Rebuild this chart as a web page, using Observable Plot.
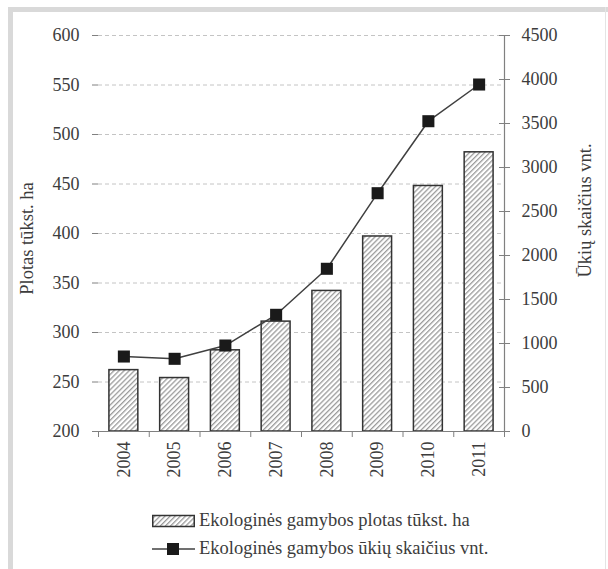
<!DOCTYPE html>
<html><head><meta charset="utf-8">
<script src="https://cdn.jsdelivr.net/npm/d3@7"></script>
<script src="https://cdn.jsdelivr.net/npm/@observablehq/plot@0.6"></script>
<style>
body{margin:0;background:#fff;font-family:"Liberation Serif","Times New Roman",serif;color:#3c3c3c}
#wrap{position:relative;width:608px;height:569px;overflow:hidden;background:#fff}
.fr{position:absolute;background:#d9d9d9}
#chart{position:absolute;left:0;top:0}
.lg{position:absolute;left:152px;display:flex;align-items:center;font-family:"Liberation Serif","Times New Roman",serif;font-size:18.5px;white-space:nowrap;color:#3c3c3c}
.lg svg{margin-right:4px}
</style></head><body>
<div id="wrap">
  <div class="fr" style="left:8px;top:7px;width:5px;height:562px"></div>
  <div class="fr" style="left:8px;top:7px;width:600px;height:5px"></div>
  <div class="fr" style="left:605px;top:7px;width:1px;height:562px;background:#e4e4e4"></div>
  <div id="chart"></div>
  <div class="lg" style="top:510px">
    <svg width="43" height="16"><defs><pattern id="hatchL" width="3.6" height="3.6" patternUnits="userSpaceOnUse" patternTransform="rotate(45)"><rect width="3.6" height="3.6" fill="#fff"/><rect width="1.3" height="3.6" fill="#9a9a9a"/></pattern></defs><rect x="0.75" y="2.5" width="41.5" height="11" fill="url(#hatchL)" stroke="#333" stroke-width="1.5"/></svg>
    <span>Ekologinės gamybos plotas tūkst. ha</span>
  </div>
  <div class="lg" style="top:538px">
    <svg width="43" height="16"><line x1="0" y1="8" x2="43" y2="8" stroke="#404040" stroke-width="1.5"/><rect x="15" y="2" width="12" height="12" fill="#1a1a1a"/></svg>
    <span>Ekologinės gamybos ūkių skaičius vnt.</span>
  </div>
</div>
<script>
const years = [2004, 2005, 2006, 2007, 2008, 2009, 2010, 2011];
const areaValues = [262, 254, 282, 311, 342, 397, 448, 482];
const farmValues = [852, 826, 977, 1326, 1849, 2708, 3526, 3943];
const leftTicks = [200, 250, 300, 350, 400, 450, 500, 550, 600];
const rightTicks = [0, 500, 1000, 1500, 2000, 2500, 3000, 3500, 4000, 4500];
const leftTitle = "Plotas tūkst. ha";
const rightTitle = "Ūkių skaičius vnt.";

const data = years.map((y, i) => ({year: y, area: areaValues[i], farms: farmValues[i]}));
const yMin = leftTicks[0], yMax = leftTicks[leftTicks.length - 1];
const rMax = rightTicks[rightTicks.length - 1];
const toLeft = v => yMin + v * (yMax - yMin) / rMax;
const fromLeft = v => (v - yMin) * rMax / (yMax - yMin);
const boundaries = years.map(y => y - 0.5).concat([years[years.length - 1] + 0.5]);
const half = 0.285;
const serif = "Liberation Serif, Times New Roman, serif";

const plot = Plot.plot({
  width: 608, height: 490,
  marginLeft: 98, marginRight: 104, marginTop: 35, marginBottom: 59,
  style: {fontFamily: serif, fontSize: "18px", color: "#3c3c3c", background: "transparent"},
  x: {type: "linear", domain: [boundaries[0], boundaries[boundaries.length - 1]]},
  y: {domain: [yMin, yMax]},
  marks: [
    Plot.gridY(leftTicks.slice(1), {stroke: "#c4c4c4", strokeOpacity: 1, strokeDasharray: "4,3"}),
    Plot.rectY(data, {x1: d => d.year - half, x2: d => d.year + half, y1: yMin, y2: "area", fill: "url(#hatch)", stroke: "#333", strokeWidth: 1.5}),
    Plot.line(data, {x: "year", y: d => toLeft(d.farms), stroke: "#404040", strokeWidth: 1.5}),
    Plot.dot(data, {x: "year", y: d => toLeft(d.farms), symbol: "square", r: 6.8, fill: "#1a1a1a", stroke: "none"}),
    Plot.ruleY([yMin], {stroke: "#808080", strokeWidth: 1.2}),
    Plot.ruleX([boundaries[boundaries.length - 1]], {stroke: "#808080", strokeWidth: 1.2}),
    Plot.axisY(leftTicks, {anchor: "left", tickSize: 6, tickPadding: 13, line: true, stroke: "#808080", label: null, tickFormat: d => String(d)}),
    Plot.axisY(rightTicks.map(toLeft), {anchor: "right", tickSize: 11, dx: -6, tickPadding: 12, stroke: "#808080", label: null, tickFormat: d => String(Math.round(fromLeft(d)))}),
    Plot.axisX(boundaries, {tickSize: 6, stroke: "#808080", tickFormat: () => "", label: null}),
    Plot.axisX(years, {tickSize: 0, tickPadding: 10, tickRotate: -90, tickFormat: d => String(d), label: null}),
    Plot.text([leftTitle], {frameAnchor: "left", textAnchor: "middle", dx: -71, dy: 5, rotate: -90, fill: "#3c3c3c", fontSize: 18.5, fontFamily: serif}),
    Plot.text([rightTitle], {frameAnchor: "right", textAnchor: "middle", dx: 81, dy: -23, rotate: -90, fill: "#3c3c3c", fontSize: 18.5, fontFamily: serif})
  ]
});
const ns = "http://www.w3.org/2000/svg";
const defs = document.createElementNS(ns, "defs");
defs.innerHTML = '<pattern id="hatch" width="3.6" height="3.6" patternUnits="userSpaceOnUse" patternTransform="rotate(45)"><rect width="3.6" height="3.6" fill="#fff"/><rect width="1.3" height="3.6" fill="#9a9a9a"/></pattern>';
plot.insertBefore(defs, plot.firstChild);
document.getElementById("chart").appendChild(plot);
</script>
</body></html>
